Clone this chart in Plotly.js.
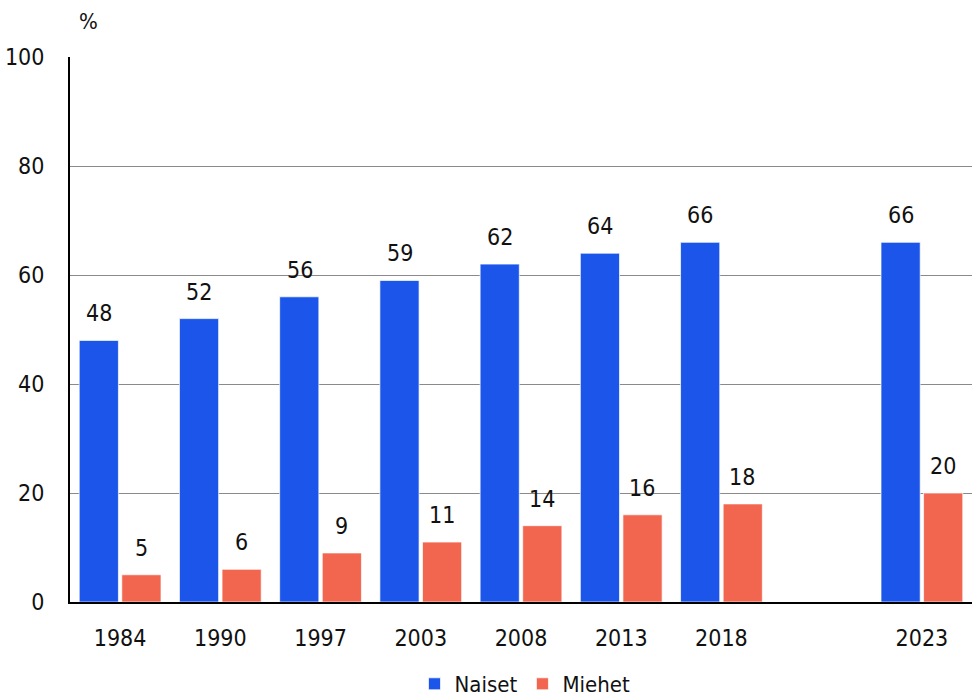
<!DOCTYPE html>
<html><head><meta charset="utf-8">
<script src="https://cdn.plot.ly/plotly-3.0.1.min.js"></script>
<style>body{margin:0;background:#fff}#chart{width:972px;height:698px}</style>
</head><body><div id="chart"></div>
<script>
const categories = ["1984","1990","1997","2003","2008","2013","2018","gap","2023"];
const tickLabels = ["1984","1990","1997","2003","2008","2013","2018","","2023"];
const naiset = [48,52,56,59,62,64,66,null,66];
const miehet = [5,6,9,11,14,16,18,null,20];
const seriesNames = ["Naiset","Miehet"];
const yTicks = [0,20,40,60,80,100];

const FONT = "'DejaVu Sans Condensed', 'Roboto', sans-serif";
const blue = "#1b55e9", red = "#f2654f";

const traces = [
  {type:'bar', name:seriesNames[0], x:categories, y:naiset,
   marker:{color:blue, line:{color:'rgba(255,255,255,0.7)', width:1}}, hoverinfo:'skip'},
  {type:'bar', name:seriesNames[1], x:categories, y:miehet,
   marker:{color:red, line:{color:'rgba(255,255,255,0.7)', width:1}}, hoverinfo:'skip'}
];

const annotations = [];
[naiset, miehet].forEach((arr, si) => {
  arr.forEach((v, i) => {
    if (v === null) return;
    annotations.push({x:i, y:v, xref:'x', yref:'y', text:String(v),
      showarrow:false, yanchor:'bottom', xshift: si===0 ? -21 : 21, yshift:12,
      font:{family:FONT, size:23, color:'#111'}});
  });
});
annotations.push({x:(88-70)/(972-70), y:(602-22)/(602-57), xref:'paper', yref:'paper',
  text:'%', showarrow:false, xanchor:'center', yanchor:'middle',
  font:{family:FONT, size:22, color:'#111'}});

const layout = {
  width:972, height:698,
  margin:{l:70, r:0, t:57, b:96, autoexpand:false},
  paper_bgcolor:'#fff', plot_bgcolor:'#fff',
  font:{family:FONT, size:23, color:'#111'},
  barmode:'group', bargap:0.15, bargroupgap:0.08,
  showlegend:true,
  legend:{orientation:'h', xref:'container', yref:'container', x:525/972, xanchor:'center',
    y:(698-684)/698, yanchor:'middle',
    font:{family:FONT, size:22, color:'#111'}, traceorder:'normal'},
  xaxis:{type:'category', categoryorder:'array', categoryarray:categories, automargin:false,
    tickvals:categories, ticktext:tickLabels, range:[-0.5, categories.length-0.5],
    showline:true, linecolor:'#000', linewidth:2, ticks:'outside', ticklen:14, tickcolor:'rgba(0,0,0,0)',
    showgrid:false, tickfont:{family:FONT, size:23, color:'#111'}},
  yaxis:{range:[0,100], tickvals:yTicks, showline:true, linecolor:'#000', linewidth:2, automargin:false,
    gridcolor:'#8a8a8a', gridwidth:1, zeroline:false,
    ticks:'outside', ticklen:19, tickcolor:'rgba(0,0,0,0)',
    tickfont:{family:FONT, size:23, color:'#111'}},
  annotations:annotations
};
Plotly.newPlot('chart', traces, layout, {staticPlot:true, displayModeBar:false});
</script></body></html>
